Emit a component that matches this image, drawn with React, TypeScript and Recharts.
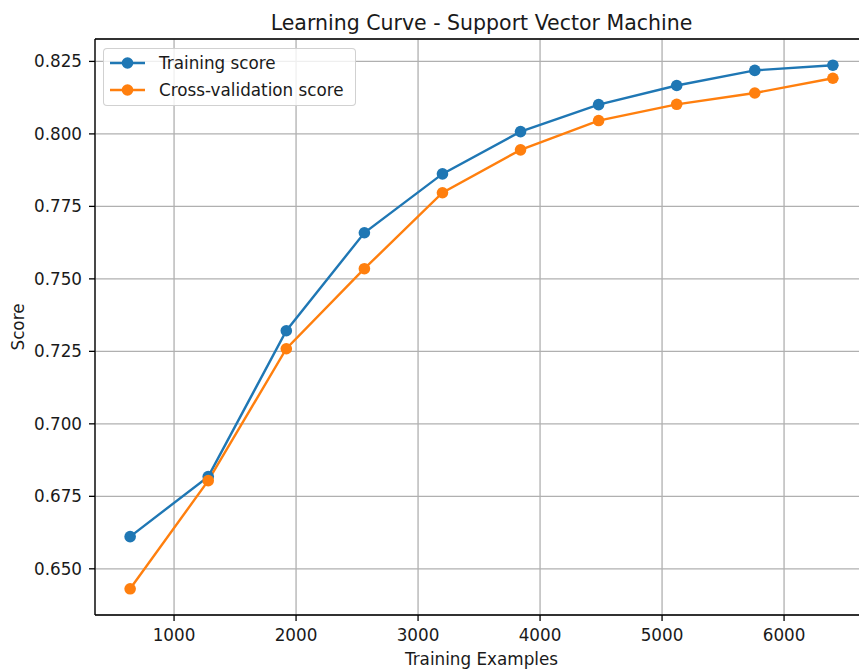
import React from "react";
import {
  LineChart,
  Line,
  XAxis,
  YAxis,
  CartesianGrid,
  Legend,
  ReferenceLine,
} from "recharts";

const FONT = "'DejaVu Sans', sans-serif";
const INK = "#1a1a1a";
const FS = 16.8;

const trainSizes = [640, 1280, 1920, 2560, 3200, 3840, 4480, 5120, 5760, 6400];
const trainScores = [0.6611, 0.6818, 0.7321, 0.7659, 0.7862, 0.8008, 0.8101, 0.8167, 0.8219, 0.8237];
const cvScores = [0.6431, 0.6804, 0.7259, 0.7535, 0.7797, 0.7945, 0.8046, 0.8102, 0.8141, 0.8192];

const xTicks = [1000, 2000, 3000, 4000, 5000, 6000];
const yTicks = [0.65, 0.675, 0.7, 0.725, 0.75, 0.775, 0.8, 0.825];

const SERIES = [
  { key: "train", name: "Training score", color: "#1f77b4" },
  { key: "cv", name: "Cross-validation score", color: "#ff7f0e" },
];

const rows = trainSizes.map((size, i) => ({
  size,
  train: trainScores[i],
  cv: cvScores[i],
}));

// matplotlib-style 5% padding around the data
function padded(values: number[]): [number, number] {
  const lo = Math.min(...values);
  const hi = Math.max(...values);
  const pad = (hi - lo) * 0.05;
  return [lo - pad, hi + pad];
}

const xDomain = padded(trainSizes);
const yDomain = padded([...trainScores, ...cvScores]);

const PLOT_TOP = 39;
const PLOT_BOTTOM = 615;

function LegendBox() {
  return (
    <div
      style={{
        boxSizing: "border-box",
        width: 253,
        border: "1px solid rgba(204,204,204,0.9)",
        borderRadius: 4,
        background: "rgba(255,255,255,0.8)",
        padding: "0 0 2px 0",
        fontFamily: FONT,
        fontSize: FS,
        color: INK,
      }}
    >
      {SERIES.map((s) => (
        <div key={s.key} style={{ display: "flex", alignItems: "center", height: 27 }}>
          <svg width={49} height={14} style={{ marginLeft: 6, flex: "none" }}>
            <line x1={0} y1={7} x2={35} y2={7} stroke={s.color} strokeWidth={2.4} />
            <circle cx={17.5} cy={7} r={5.8} fill={s.color} />
          </svg>
          <span style={{ whiteSpace: "nowrap" }}>{s.name}</span>
        </div>
      ))}
    </div>
  );
}

function ScoreLabel() {
  const cy = (PLOT_TOP + PLOT_BOTTOM) / 2;
  return (
    <text
      x={24}
      y={cy}
      transform={`rotate(-90, 24, ${cy})`}
      textAnchor="middle"
      fontSize={FS}
      fill={INK}
      fontFamily={FONT}
    >
      Score
    </text>
  );
}

export default function App() {
  return (
    <div
      style={{
        position: "fixed",
        left: 0,
        top: 0,
        width: 859,
        height: 669,
        overflow: "hidden",
        background: "#fff",
        fontFamily: FONT,
      }}
    >
      <LineChart
        width={868}
        height={669}
        data={rows}
        margin={{ top: PLOT_TOP, right: 0, bottom: 0, left: 0 }}
      >
        <CartesianGrid stroke="#b0b0b0" strokeWidth={1.3} />
        <XAxis
          dataKey="size"
          type="number"
          domain={xDomain}
          ticks={xTicks}
          allowDataOverflow
          height={54}
          tickSize={6}
          tickMargin={8}
          axisLine={{ stroke: "#000", strokeWidth: 1.3 }}
          tickLine={{ stroke: "#000", strokeWidth: 1.3 }}
          tick={{ fontSize: FS, fill: INK, fontFamily: FONT }}
          label={{
            value: "Training Examples",
            position: "insideBottom",
            offset: 4,
            fontSize: FS,
            fill: INK,
            fontFamily: FONT,
          }}
        />
        <YAxis
          type="number"
          domain={yDomain}
          ticks={yTicks}
          allowDataOverflow
          width={95}
          tickSize={6}
          tickMargin={7}
          tickFormatter={(v: number) => v.toFixed(3)}
          axisLine={{ stroke: "#000", strokeWidth: 1.3 }}
          tickLine={{ stroke: "#000", strokeWidth: 1.3 }}
          tick={{ fontSize: FS, fill: INK, fontFamily: FONT }}
          label={<ScoreLabel />}
        />
        {/* top spine, carrying the title */}
        <ReferenceLine
          y={yDomain[1]}
          stroke="#000"
          strokeWidth={1.3}
          label={{
            value: "Learning Curve - Support Vector Machine",
            position: "top",
            offset: 9.5,
            fontSize: 20.5,
            fill: INK,
            fontFamily: FONT,
          }}
        />
        <Legend
          layout="vertical"
          align="center"
          verticalAlign="middle"
          content={() => <LegendBox />}
          wrapperStyle={{ left: 103, top: 48, width: "auto", height: "auto" }}
        />
        {SERIES.map((s) => (
          <Line
            key={s.key}
            dataKey={s.key}
            name={s.name}
            type="linear"
            stroke={s.color}
            strokeWidth={2.4}
            dot={{ r: 5.8, fill: s.color, stroke: s.color, strokeWidth: 0 }}
            activeDot={false}
            isAnimationActive={false}
          />
        ))}
      </LineChart>
    </div>
  );
}
